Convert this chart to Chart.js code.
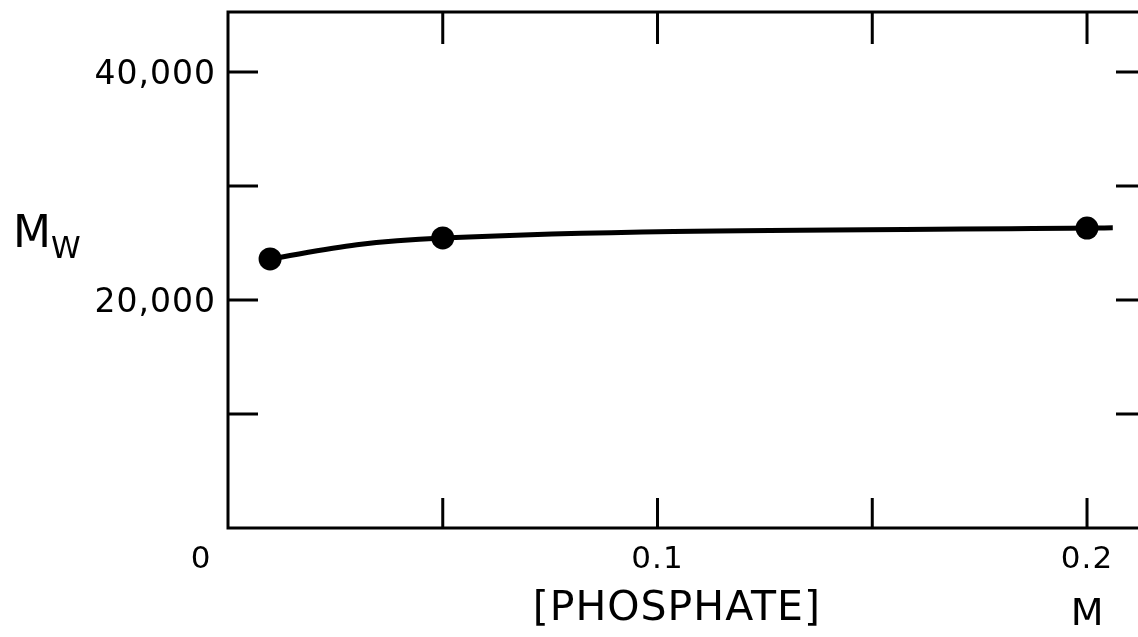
<!DOCTYPE html>
<html>
<head>
<meta charset="utf-8">
<script src="https://cdn.jsdelivr.net/npm/chart.js@4.4.0/dist/chart.umd.min.js"></script>
<style>
    html, body { margin: 0; padding: 0; background: #fff; overflow: hidden; }
    #wrap { width: 1160px; height: 637px; }
</style>
</head>
<body>
<div id="wrap"><canvas id="mwChart" width="1160" height="637"></canvas></div>
<script>
// Measured points
const phosphate = [0.0098, 0.05, 0.2];
const mwValues = [23600, 25440, 26310];

// Drawn curve
const curveX = [0.0098, 0.03, 0.05, 0.2, 0.206];
const curveY = [23600, 24850, 25440, 26310, 26330];

// Axis ticks and labels
const xTicks = [0.05, 0.1, 0.15, 0.2];
const xLabelValues = [0, 0.1, 0.2];
const xLabelText = ['0', '0.1', '0.2'];
const yTicks = [10000, 20000, 30000, 40000];
const yLabelValues = [20000, 40000];
const yLabelText = ['20,000', '40,000'];

const FONT = '"DejaVu Sans", sans-serif';

function drawText(ctx, str, x, y, size, align, spacing) {
    ctx.font = size + 'px ' + FONT;
    ctx.textAlign = align;
    ctx.textBaseline = 'alphabetic';
    if ('letterSpacing' in ctx) ctx.letterSpacing = (spacing || 0) + 'px';
    ctx.fillText(str, x, y);
    if ('letterSpacing' in ctx) ctx.letterSpacing = '0px';
}

// frame with inward ticks, and all the hand-lettered labels
const framePlugin = {
    id: 'frame',
    afterDatasetsDraw(chart) {
        const ctx = chart.ctx;
        const area = chart.chartArea;
        const xs = chart.scales.x;
        const ys = chart.scales.y;
        ctx.save();
        ctx.strokeStyle = '#000';
        ctx.fillStyle = '#000';
        ctx.lineWidth = 3;
        ctx.lineCap = 'butt';

        ctx.beginPath();
        ctx.rect(area.left, area.top, area.right - area.left, area.bottom - area.top);
        ctx.stroke();

        ctx.beginPath();
        xTicks.forEach(v => {
            const px = xs.getPixelForValue(v);
            ctx.moveTo(px, area.bottom);
            ctx.lineTo(px, area.bottom - 30);
            ctx.moveTo(px, area.top);
            ctx.lineTo(px, area.top + 32);
        });
        yTicks.forEach(v => {
            const py = ys.getPixelForValue(v);
            ctx.moveTo(area.left, py);
            ctx.lineTo(area.left + 30, py);
            ctx.moveTo(area.right, py);
            ctx.lineTo(area.right - 26, py);
        });
        ctx.stroke();

        // y labels
        yLabelValues.forEach((v, i) => {
            const py = ys.getPixelForValue(v);
            drawText(ctx, yLabelText[i], area.left - 12, py + 12, 33, 'right', 1);
        });

        // x labels ("0" sits left of the corner)
        xLabelValues.forEach((v, i) => {
            let px = xs.getPixelForValue(v);
            if (v === 0) px -= 27;
            drawText(ctx, xLabelText[i], px, area.bottom + 40, 31, 'center', 1);
        });

        // axis titles
        drawText(ctx, '[PHOSPHATE]', xs.getPixelForValue(0.1045), area.bottom + 92, 41, 'center', 1);
        drawText(ctx, 'M', xs.getPixelForValue(0.2), area.bottom + 97, 38, 'center', 0);
        drawText(ctx, 'M', 13, 247, 44, 'left', 0);
        drawText(ctx, 'W', 51, 258, 30, 'left', 0);

        ctx.restore();
    }
};

function initMwChart() {
    const ctx = document.getElementById('mwChart').getContext('2d');
    new Chart(ctx, {
        type: 'scatter',
        data: {
            datasets: [{
                label: 'curve',
                data: curveX.map((x, i) => ({ x: x, y: curveY[i] })),
                showLine: true,
                borderColor: '#000',
                borderWidth: 5,
                pointRadius: 0,
                cubicInterpolationMode: 'monotone',
                fill: false
            }, {
                label: 'Mw',
                data: phosphate.map((x, i) => ({ x: x, y: mwValues[i] })),
                backgroundColor: '#000',
                borderColor: '#000',
                pointRadius: 11.5,
                pointBorderWidth: 0
            }]
        },
        options: {
            responsive: false,
            animation: false,
            layout: {
                padding: { left: 228, top: 12, right: 18, bottom: 109 }
            },
            plugins: {
                legend: { display: false },
                tooltip: { enabled: false }
            },
            scales: {
                x: { type: 'linear', min: 0, max: 0.2128, display: false },
                y: { type: 'linear', min: 0, max: 45260, display: false }
            }
        },
        plugins: [framePlugin]
    });
}

window.addEventListener('load', () => {
    initMwChart();
});
</script>
</body>
</html>
